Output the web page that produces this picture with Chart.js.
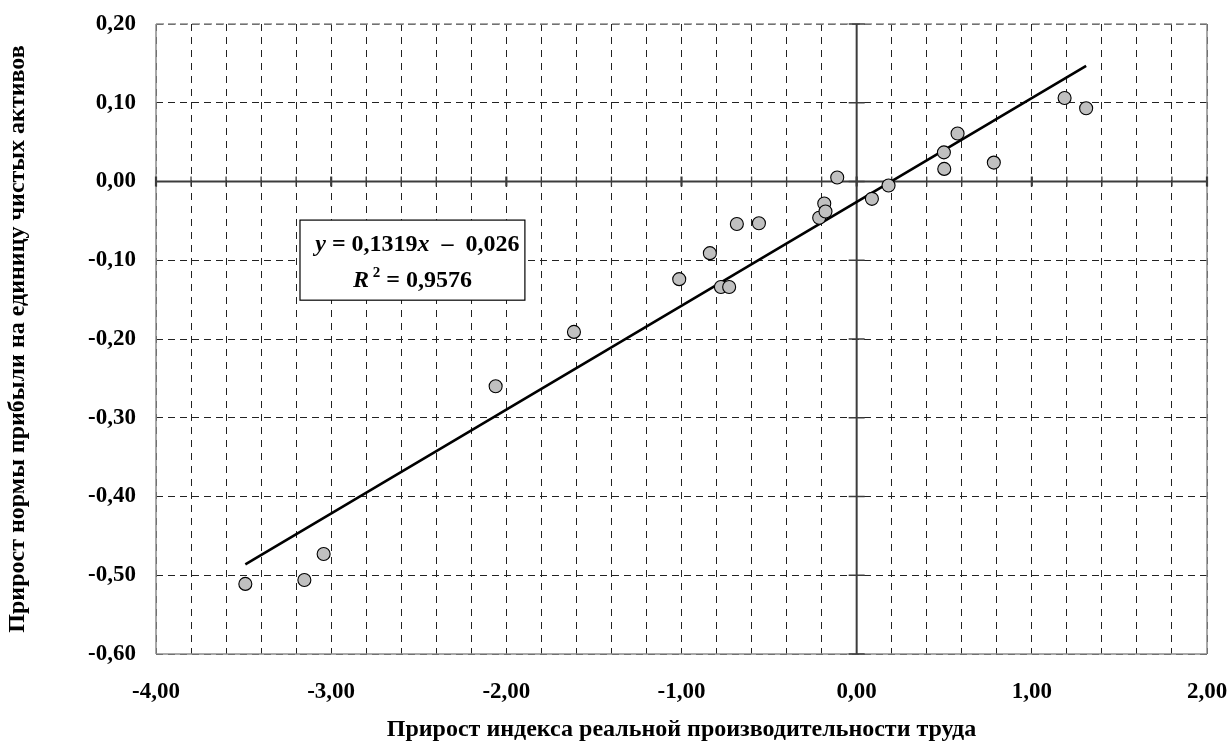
<!DOCTYPE html>
<html>
<head>
<meta charset="utf-8">
<script src="https://cdn.jsdelivr.net/npm/chart.js@4.4.1/dist/chart.umd.min.js"></script>
<style>
html,body{margin:0;padding:0;background:#fff;}
#wrap{width:1229px;height:744px;}
</style>
</head>
<body>
<div id="wrap"><canvas id="c" width="1229" height="744"></canvas></div>
<script>
// ---- data ----
const xValues = [-3.490, -3.153, -3.043, -2.061, -1.614, -1.013, -0.838, -0.775, -0.728, -0.684, -0.558,
                 -0.214, -0.185, -0.178, -0.111, 0.087, 0.182, 0.498, 0.500, 0.576, 0.783, 1.187, 1.310];
const yValues = [-0.511, -0.506, -0.473, -0.260, -0.191, -0.124, -0.091, -0.134, -0.134, -0.054, -0.053,
                 -0.046, -0.028, -0.038, 0.005, -0.022, -0.005, 0.037, 0.016, 0.061, 0.024, 0.106, 0.093];
const xTickValues = [-4, -3, -2, -1, 0, 1, 2];
const yTickValues = [0.2, 0.1, 0, -0.1, -0.2, -0.3, -0.4, -0.5, -0.6];
const trendSlope = 0.1319;
const trendIntercept = -0.026;
const rSquared = '0,9576';
const eqText = ['0,1319', '0,026'];
const xTitle = 'Прирост индекса реальной производительности труда';
const yTitle = 'Прирост нормы прибыли на единицу чистых активов';

const FONT = '"Liberation Serif", "Times New Roman", serif';
const fmt = v => v.toFixed(2).replace('.', ',');
const points = xValues.map((x, i) => ({x, y: yValues[i]}));
const xMin = Math.min(...xValues), xMax = Math.max(...xValues);
const trend = [xMin, xMax].map(x => ({x, y: trendSlope * x + trendIntercept}));
const near = (v, arr) => arr.some(a => Math.abs(a - v) < 1e-6);

// equation box anchor in data coordinates
const boxX = [-3.178, -1.894];
const boxY = [-0.049, -0.1507];

function seg(ctx, parts, cx, baseY) {
  let total = 0;
  parts.forEach(p => { ctx.font = p.font; p.w = ctx.measureText(p.t).width; total += p.w; });
  let x = cx - total / 2;
  parts.forEach(p => { ctx.font = p.font; ctx.fillText(p.t, x, baseY + (p.dy || 0)); x += p.w; });
}

const decor = {
  id: 'decor',
  beforeDatasetsDraw(chart) {
    const {ctx, chartArea: a, scales: {x, y}} = chart;
    const line = (x1, y1, x2, y2) => { ctx.beginPath(); ctx.moveTo(x1, y1); ctx.lineTo(x2, y2); ctx.stroke(); };
    ctx.save();
    // frame
    ctx.strokeStyle = '#8c8c8c';
    ctx.lineWidth = 1.5;
    ctx.setLineDash([]);
    line(a.left, a.bottom, a.right, a.bottom);
    line(a.right, a.top, a.right, a.bottom);
    line(a.left, a.top, a.left, a.bottom);
    ctx.setLineDash([8, 4]);
    line(a.left, a.top, a.right, a.top);
    ctx.setLineDash([]);
    // zero axes
    const x0 = x.getPixelForValue(0), y0 = y.getPixelForValue(0);
    ctx.strokeStyle = '#3c3c3c';
    ctx.lineWidth = 2;
    line(a.left, y0, a.right, y0);
    line(x0, a.top, x0, a.bottom);
    x.ticks.forEach(t => {
      const px = x.getPixelForValue(t.value);
      const major = near(t.value, xTickValues);
      ctx.lineWidth = major ? 2.2 : 1.3;
      line(px, y0 - 5, px, y0 + 5);
    });
    ctx.lineWidth = 1.5;
    y.ticks.forEach(t => {
      const py = y.getPixelForValue(t.value);
      line(x0 - 8, py, x0 + 8, py);
    });
    ctx.restore();
  },
  afterDatasetsDraw(chart) {
    const {ctx, scales: {x, y}} = chart;
    const l = x.getPixelForValue(boxX[0]), r = x.getPixelForValue(boxX[1]);
    const t = y.getPixelForValue(boxY[0]), b = y.getPixelForValue(boxY[1]);
    ctx.save();
    ctx.fillStyle = '#fff';
    ctx.fillRect(l, t, r - l, b - t);
    ctx.strokeStyle = '#000';
    ctx.lineWidth = 1.2;
    ctx.strokeRect(l, t, r - l, b - t);
    ctx.fillStyle = '#000';
    ctx.textBaseline = 'alphabetic';
    ctx.textAlign = 'left';
    const n = 'bold 24px ' + FONT, it = 'italic bold 24px ' + FONT, sm = 'bold 15px ' + FONT;
    const cx = (l + r) / 2;
    seg(ctx, [
      {t: 'y', font: it}, {t: ' = ' + eqText[0], font: n}, {t: 'x', font: it},
      {t: '  –  ' + eqText[1], font: n}
    ], cx + 5, t + 31);
    seg(ctx, [
      {t: 'R', font: it}, {t: ' 2', font: sm, dy: -10}, {t: ' = ' + rSquared, font: n}
    ], cx, t + 67);
    ctx.restore();
  }
};

new Chart(document.getElementById('c'), {
  type: 'scatter',
  data: {
    datasets: [
      {
        label: 'data',
        data: points,
        backgroundColor: '#c0c0c0',
        borderColor: '#000',
        borderWidth: 1.1,
        pointRadius: 6.5,
        pointHoverRadius: 6.5,
        order: 0
      },
      {
        label: 'trend',
        type: 'line',
        data: trend,
        borderColor: '#000',
        borderWidth: 2.6,
        pointRadius: 0,
        fill: false,
        tension: 0,
        order: 1
      }
    ]
  },
  options: {
    responsive: false,
    animation: false,
    devicePixelRatio: 1,
    layout: {padding: {left: 0, right: 22, top: 24, bottom: 0}},
    plugins: {legend: {display: false}, tooltip: {enabled: false}},
    scales: {
      x: {
        type: 'linear',
        min: -4, max: 2,
        afterFit: s => { s.height = 90; s.paddingLeft = 0; s.paddingRight = 0; },
        ticks: {
          stepSize: 0.2, maxTicksLimit: 40, autoSkip: false, maxRotation: 0,
          padding: 24, color: '#000',
          font: {family: FONT, size: 23, weight: 'bold'},
          callback: v => near(v, xTickValues) ? fmt(v) : ''
        },
        grid: {color: '#222', lineWidth: 1, drawTicks: false},
        border: {display: false, dash: [7, 6]},
        title: {display: true, text: xTitle, color: '#000', padding: {top: 0, bottom: 0},
                font: {family: FONT, size: 24, weight: 'bold'}}
      },
      y: {
        type: 'linear',
        min: -0.6, max: 0.2,
        afterFit: s => { s.width = 156; s.paddingTop = 0; s.paddingBottom = 0; },
        ticks: {
          stepSize: 0.1, maxTicksLimit: 40, padding: 20, color: '#000',
          font: {family: FONT, size: 23, weight: 'bold'},
          callback: v => near(v, yTickValues) ? fmt(v) : ''
        },
        grid: {color: '#222', lineWidth: 1, drawTicks: false},
        border: {display: false, dash: [7, 5]},
        title: {display: true, text: yTitle, color: '#000', padding: {top: 3, bottom: 0},
                font: {family: FONT, size: 24, weight: 'bold'}}
      }
    }
  },
  plugins: [decor]
});
</script>
</body>
</html>
